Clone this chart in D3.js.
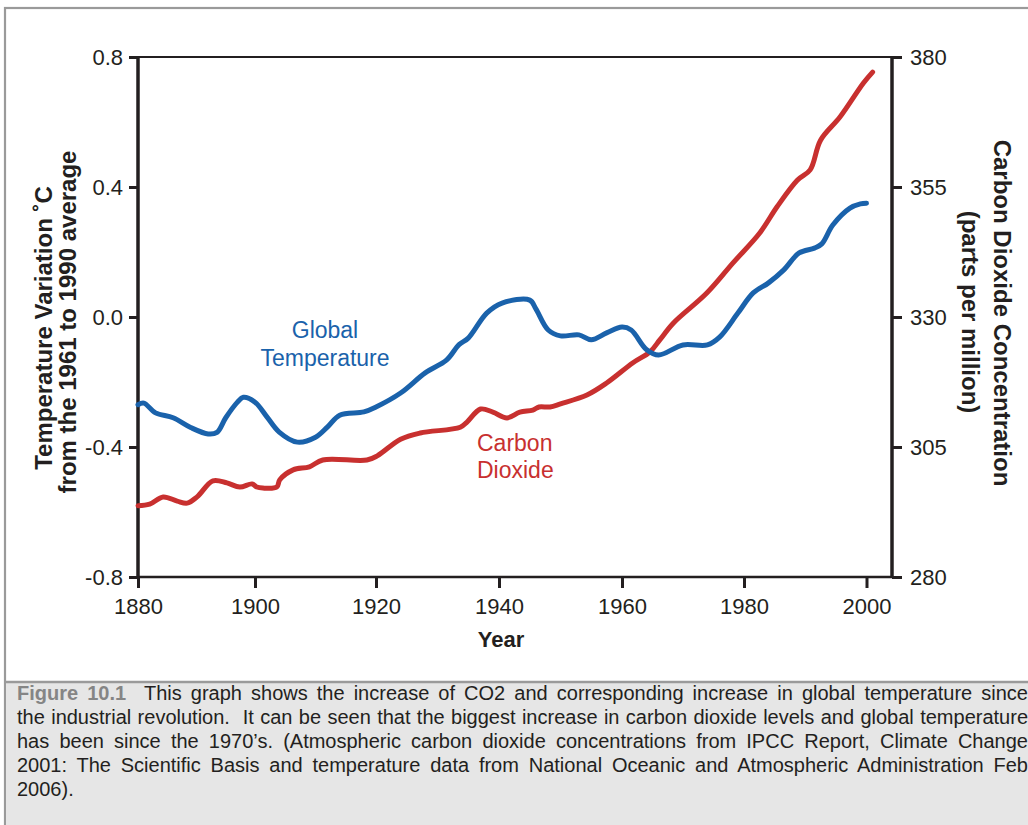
<!DOCTYPE html>
<html>
<head>
<meta charset="utf-8">
<script src="https://cdn.jsdelivr.net/npm/d3@7"></script>
<style>
  html, body { margin: 0; padding: 0; background: #fff; }
  #wrap { position: relative; width: 1028px; height: 825px; overflow: hidden; }
  svg { position: absolute; left: 0; top: 0; }
  #caption { position: absolute; left: 17px; top: 681px; width: 1011px;
    font-family: "Liberation Sans", Arial, Helvetica, sans-serif; font-size: 20px;
    line-height: 24px; color: #231f20; }
  #caption .ln { white-space: pre; }
  #caption b { color: #858585; }
</style>
</head>
<body>
<div id="wrap">
<svg id="chart" width="1028" height="825"></svg>
<div id="caption"></div>
</div>
<script>
// ---------- data ----------
const tempYears = [1880,1881,1883,1886,1889,1892,1893.5,1895,1897,1898,1900,1902,1904,1907,1910,1912,1914,1918,1920,1924,1928,1931.5,1933.5,1935,1938,1940.5,1945,1946,1948,1950,1953,1955,1957.5,1960,1961.5,1964,1966,1970,1974,1976,1979,1981.5,1984,1986.5,1989,1991.5,1992.7,1994.5,1997.3,1999,2000];
const tempValues = [-0.27,-0.265,-0.295,-0.31,-0.34,-0.36,-0.355,-0.31,-0.262,-0.247,-0.262,-0.308,-0.354,-0.385,-0.37,-0.338,-0.302,-0.292,-0.277,-0.234,-0.172,-0.132,-0.085,-0.065,0.012,0.043,0.052,0.025,-0.04,-0.058,-0.055,-0.07,-0.049,-0.031,-0.04,-0.10,-0.117,-0.086,-0.086,-0.062,0.012,0.074,0.105,0.145,0.197,0.212,0.225,0.283,0.335,0.348,0.35];

const co2Years = [1880,1882,1884.3,1886.7,1888.4,1890.1,1892.8,1895.2,1897.4,1899.5,1900.3,1901.3,1903.6,1904.1,1906.3,1909,1911.2,1918.5,1920.2,1924,1927.2,1933.7,1934.8,1937,1939,1941.3,1943.4,1945.5,1946.5,1948.3,1950,1954.3,1957.5,1961.8,1964.6,1966.2,1968.4,1973.9,1978.2,1982.6,1985.4,1988.7,1990.8,1992.5,1995.7,1999.5,2001];
const co2Values = [293.7,294.0,295.4,294.6,294.2,295.4,298.5,298.1,297.3,297.9,297.3,297.1,297.3,298.7,300.6,301.2,302.5,302.5,303.3,306.5,307.7,308.8,309.8,312.3,311.7,310.6,311.7,312.1,312.7,312.7,313.3,315.0,317.3,321.2,323.3,325.6,328.8,334.6,340.4,346.2,351.2,356.3,358.3,364.0,368.5,375.0,377.1];

const yearTicks = [1880,1900,1920,1940,1960,1980,2000];
const tempTicks = [-0.8,-0.4,0.0,0.4,0.8];
const tempTickLabels = ["-0.8","-0.4","0.0","0.4","0.8"];
const co2Ticks = [280,305,330,355,380];
const co2TickLabels = ["280","305","330","355","380"];

const captionLines = [
  "This graph shows the increase of CO2 and corresponding increase in global temperature since",
  "the industrial revolution.  It can be seen that the biggest increase in carbon dioxide levels and global temperature",
  "has been since the 1970’s. (Atmospheric carbon dioxide concentrations from IPCC Report, Climate Change",
  "2001: The Scientific Basis and temperature data from National Oceanic and Atmospheric Administration Feb",
  "2006)."
];
const captionLead = "Figure 10.1";

// ---------- layout ----------
const L = 138, R = 892, T = 57, B = 577;
const FONT = '"Liberation Sans", Arial, Helvetica, sans-serif';
const INK = "#231f20";
const BLUE = "#1a62ab";
const RED = "#c8302f";

const svg = d3.select("#chart");

// frame + caption background
svg.append("rect").attr("x", 5).attr("y", 8).attr("width", 1040).attr("height", 840)
  .attr("fill", "#fff").attr("stroke", "#9a9a9a").attr("stroke-width", 2.2);
svg.append("rect").attr("x", 6).attr("y", 682).attr("width", 1040).attr("height", 160)
  .attr("fill", "#e6e6e6");
svg.append("line").attr("x1", 5).attr("x2", 1040).attr("y1", 682).attr("y2", 682)
  .attr("stroke", "#9a9a9a").attr("stroke-width", 2.5);

// scales
const x = d3.scaleLinear().domain(yearTicks).range([138, 255, 376, 499, 622, 744, 866.5]);
const yT = d3.scaleLinear().domain([-0.8, 0.8]).range([B, T]);
const yC = d3.scaleLinear().domain([280, 380]).range([B, T]);

// plot box
const g = svg.append("g");
g.append("line").attr("x1", L).attr("x2", R).attr("y1", T).attr("y2", T).attr("stroke", INK).attr("stroke-width", 2.2);
g.append("line").attr("x1", L).attr("x2", R).attr("y1", B).attr("y2", B).attr("stroke", INK).attr("stroke-width", 2.5);
g.append("line").attr("x1", L).attr("x2", L).attr("y1", T - 1).attr("y2", B + 1).attr("stroke", INK).attr("stroke-width", 3.5);
g.append("line").attr("x1", R).attr("x2", R).attr("y1", T - 1).attr("y2", B + 1).attr("stroke", INK).attr("stroke-width", 3.5);

function styleAxis(sel) {
  sel.select(".domain").remove();
  sel.selectAll(".tick line").attr("stroke", INK).attr("stroke-width", 3);
  sel.selectAll(".tick text").attr("fill", INK).style("font-family", FONT).style("font-size", "22px");
}

svg.append("g").attr("transform", `translate(${L},0)`)
  .call(d3.axisLeft(yT).tickValues(tempTicks).tickSize(9).tickPadding(6)
    .tickFormat((d, i) => tempTickLabels[i]))
  .call(styleAxis);

svg.append("g").attr("transform", `translate(${R},0)`)
  .call(d3.axisRight(yC).tickValues(co2Ticks).tickSize(10).tickPadding(8)
    .tickFormat((d, i) => co2TickLabels[i]))
  .call(styleAxis);

svg.append("g").attr("transform", `translate(0,${B})`)
  .call(d3.axisBottom(x).tickValues(yearTicks).tickSize(11).tickPadding(10)
    .tickFormat(d3.format("d")))
  .call(styleAxis);

// lines
const tempData = tempYears.map((yr, i) => ({ yr, v: tempValues[i] }));
const co2Data = co2Years.map((yr, i) => ({ yr, v: co2Values[i] }));

svg.append("path").datum(co2Data)
  .attr("d", d3.line().x(d => x(d.yr)).y(d => yC(d.v)).curve(d3.curveCatmullRom.alpha(0.5)))
  .attr("fill", "none").attr("stroke", RED).attr("stroke-width", 5).attr("stroke-linecap", "round").attr("stroke-linejoin", "round");

svg.append("path").datum(tempData)
  .attr("d", d3.line().x(d => x(d.yr)).y(d => yT(d.v)).curve(d3.curveCatmullRom.alpha(0.5)))
  .attr("fill", "none").attr("stroke", BLUE).attr("stroke-width", 5).attr("stroke-linecap", "round").attr("stroke-linejoin", "round");

// series labels
const lab = svg.append("g").style("font-family", FONT).style("font-size", "23px");
lab.append("text").attr("x", 325).attr("y", 338).attr("text-anchor", "middle").attr("fill", BLUE).text("Global");
lab.append("text").attr("x", 325).attr("y", 366).attr("text-anchor", "middle").attr("fill", BLUE).text("Temperature");
lab.append("text").attr("x", 477).attr("y", 451).attr("fill", RED).text("Carbon");
lab.append("text").attr("x", 477).attr("y", 478).attr("fill", RED).text("Dioxide");

// axis titles
const tt = svg.append("g").style("font-family", FONT).style("font-weight", "bold").attr("fill", INK);
tt.append("text").attr("transform", "translate(52,328) rotate(-90)").attr("text-anchor", "middle").style("font-size", "24px").text("Temperature Variation ˚C");
tt.append("text").attr("transform", "translate(76,322) rotate(-90)").attr("text-anchor", "middle").style("font-size", "24px").text("from the 1961 to 1990 average");
tt.append("text").attr("transform", "translate(994,313) rotate(90)").attr("text-anchor", "middle").style("font-size", "24px").text("Carbon Dioxide Concentration");
tt.append("text").attr("transform", "translate(962,312) rotate(90)").attr("text-anchor", "middle").style("font-size", "24px").text("(parts per million)");
tt.append("text").attr("x", 501).attr("y", 647).attr("text-anchor", "middle").style("font-size", "22px").text("Year");

// caption (justified by measuring each line)
const cap = d3.select("#caption");
const W = 1011;
captionLines.forEach((t, i) => {
  const d = cap.append("div").attr("class", "ln");
  const s = d.append("span");
  if (i === 0) {
    s.append("b").text(captionLead);
    s.append("span").text("  " + t);
  } else {
    s.text(t);
  }
  if (i < captionLines.length - 1) {
    const natural = s.node().getBoundingClientRect().width;
    const full = (i === 0 ? captionLead + "  " : "") + t;
    const gaps = (full.match(/ /g) || []).length;
    s.style("word-spacing", ((W - natural) / gaps) + "px");
  }
});
</script>
</body>
</html>
